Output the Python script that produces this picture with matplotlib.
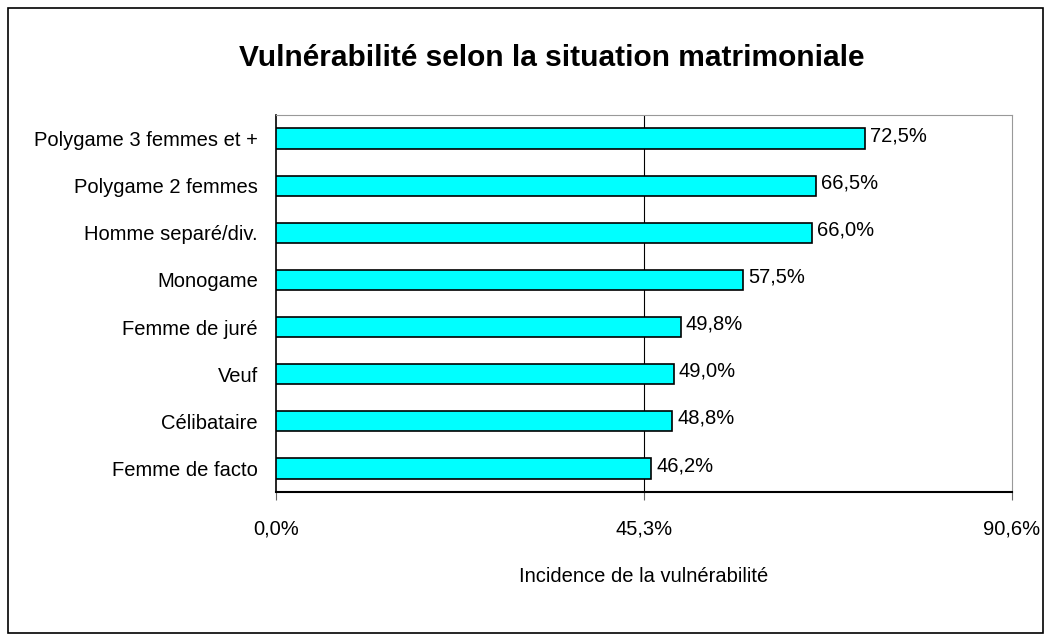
import matplotlib
matplotlib.use("Agg")
import matplotlib.pyplot as plt
from matplotlib.patches import Rectangle

categories = ["Polygame 3 femmes et +", "Polygame 2 femmes", "Homme separé/div.",
              "Monogame", "Femme de juré", "Veuf", "Célibataire", "Femme de facto"]
values = [72.5, 66.5, 66.0, 57.5, 49.8, 49.0, 48.8, 46.2]
xticks = [0.0, 45.3, 90.6]
xtick_labels = ["0,0%", "45,3%", "90,6%"]

plt.rcParams['font.family'] = ['Liberation Sans', 'DejaVu Sans']

W, H = 1052, 642
fig = plt.figure(figsize=(W/100, H/100), dpi=100)
fig.patches.append(Rectangle((8/W, 1-633/H), (1043-8)/W, (633-8)/H,
                             transform=fig.transFigure, fill=False,
                             edgecolor='black', linewidth=1.2))

l, r, t, b = 276, 1012, 115, 492
ax = fig.add_axes([l/W, 1-b/H, (r-l)/W, (b-t)/H])

n = len(categories)
ypos = list(range(n))[::-1]
ax.barh(ypos, values, height=0.43, color='#00FFFF', edgecolor='black', linewidth=1.2, zorder=3)
for y, v in zip(ypos, values):
    ax.text(v + 0.6, y + 0.06, f"{v:.1f}%".replace('.', ','), va='center', ha='left', fontsize=14.5)

ax.set_xlim(0, 90.6)
ax.set_ylim(-0.5, n - 0.5)
ax.set_xticks(xticks)
ax.set_xticklabels(xtick_labels, fontsize=14.5)
ax.set_yticks(ypos)
ax.set_yticklabels(categories, fontsize=14.5)
ax.tick_params(axis='y', length=0, pad=13)
ax.tick_params(axis='x', direction='out', length=6, pad=14, color='#666666')
ax.axvline(45.3, color='black', linewidth=0.8, zorder=1)

ax.spines['top'].set_color('#999999')
ax.spines['right'].set_color('#999999')
ax.spines['left'].set_color('black')
ax.spines['bottom'].set_color('black')
ax.spines['left'].set_linewidth(1.2)
ax.spines['bottom'].set_linewidth(1.5)

ax.set_xlabel("Incidence de la vulnérabilité", fontsize=14.5, labelpad=20)
fig.text(552/W, 1-58/H, "Vulnérabilité selon la situation matrimoniale",
         ha='center', va='center', fontsize=21.5, fontweight='bold')

fig.savefig("out.png", dpi=100)
